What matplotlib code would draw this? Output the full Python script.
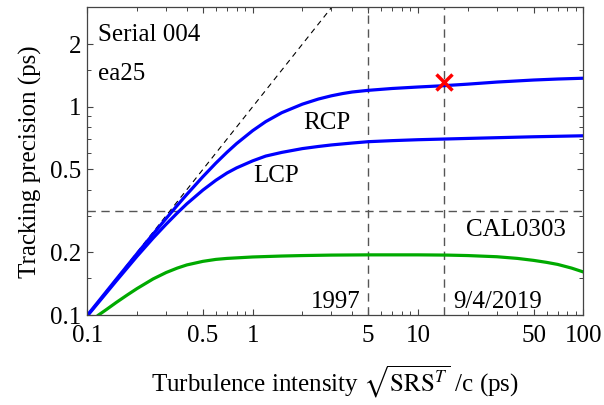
import numpy as np
import matplotlib
matplotlib.use("Agg")
import matplotlib.pyplot as plt
from matplotlib.ticker import FixedLocator, NullFormatter

SERIF = "Liberation Serif"
plt.rcParams["font.family"] = SERIF
plt.rcParams["mathtext.fontset"] = "stix"
plt.rcParams["font.size"] = 18

# --- data ---
rcp_x = [0.1, 0.15, 0.2, 0.25, 0.3, 0.35, 0.4, 0.5, 0.6, 0.7, 0.8, 1.0,
         1.2, 1.5, 2.0, 2.5, 3.0, 3.5, 4.0, 5.0, 7.0, 10, 14, 20, 30, 50,
         70, 100]
rcp_y = [0.0997, 0.1488, 0.1973, 0.2447, 0.291, 0.336, 0.3795, 0.4615,
         0.537, 0.605, 0.666, 0.768, 0.849, 0.937, 1.03, 1.09, 1.13, 1.158,
         1.178, 1.20, 1.225, 1.245, 1.262, 1.285, 1.315, 1.345, 1.36, 1.372]

lcp_x = [0.1, 0.15, 0.2, 0.25, 0.3, 0.35, 0.4, 0.5, 0.6, 0.7, 0.8, 1.0,
         1.2, 1.5, 2.0, 2.5, 3.0, 4.0, 5.0, 7.0, 10, 20, 50, 100]
lcp_y = [0.0989, 0.146, 0.1915, 0.234, 0.273, 0.309, 0.342, 0.398, 0.444,
         0.481, 0.509, 0.55, 0.58, 0.604, 0.63, 0.645, 0.656, 0.67, 0.68,
         0.688, 0.695, 0.705, 0.718, 0.726]

cal_x = [0.117, 0.13, 0.15, 0.175, 0.2, 0.25, 0.3, 0.35, 0.4, 0.5, 0.6,
         0.7, 1.0, 1.5, 2.0, 3.0, 5.0, 10, 15, 20, 30, 40, 50, 60, 70, 85,
         100]
cal_y = [0.1, 0.106, 0.115, 0.125, 0.134, 0.149, 0.16, 0.168, 0.174,
         0.181, 0.185, 0.187, 0.19, 0.192, 0.193, 0.194, 0.1945, 0.1945,
         0.194, 0.193, 0.1905, 0.187, 0.183, 0.179, 0.175, 0.168, 0.161]

ideal_x = [0.1, 3.0]
ideal_y = [0.1, 3.0]

epoch_x = [5.0, 14.3]
floor_y = 0.316
marker_x, marker_y = 14.3, 1.32

x_major = [0.1, 0.5, 1, 5, 10, 50, 100]
x_major_labels = ["0.1", "0.5", "1", "5", "10", "50", "100"]
x_minor = [0.2, 0.3, 0.4, 0.6, 0.7, 0.8, 0.9, 2, 3, 4, 6, 7, 8, 9,
           20, 30, 40, 60, 70, 80, 90]
y_major = [0.1, 0.2, 0.5, 1, 2]
y_major_labels = ["0.1", "0.2", "0.5", "1", "2"]
y_minor = [0.15, 0.3, 0.4, 0.6, 0.7, 0.8, 0.9, 1.5]

fig = plt.figure(figsize=(6.04, 4.05), dpi=100)
ax = fig.add_axes([0.1445, 0.2222, 0.8212, 0.7593])
ax.set_xscale("log")
ax.set_yscale("log")
ax.set_xlim(0.1, 100)
ax.set_ylim(0.1, 3.0)

# reference lines
ax.plot(ideal_x, ideal_y, color="black", lw=0.8, dashes=(5, 4))
for xv in epoch_x:
    ax.axvline(xv, color="#555555", lw=1.0, dashes=(6, 4))
ax.axhline(floor_y, color="#555555", lw=1.0, dashes=(6, 4))

# curves
ax.plot(cal_x, cal_y, color="#00aa00", lw=2.3)
ax.plot(lcp_x, lcp_y, color="#0000ff", lw=2.3)
ax.plot(rcp_x, rcp_y, color="#0000ff", lw=2.3)
ax.plot(marker_x, marker_y, "x", color="red", ms=11, mew=2.5)

# annotations
txt = dict(fontfamily=SERIF, fontsize=18)
ax.text(0.0216, 0.91, "Serial 004", transform=ax.transAxes, va="center", **txt)
ax.text(0.0216, 0.785, "ea25", transform=ax.transAxes, va="center", **txt)
ax.text(2.8, 0.835, "RCP", ha="center", va="center", **txt)
ax.text(1.39, 0.465, "LCP", ha="center", va="center", **txt)
ax.text(39.4, 0.255, "CAL0303", ha="center", va="center", **txt)
ax.text(4.5, 0.116, "1997", ha="right", va="center", **txt)
ax.text(16.4, 0.116, "9/4/2019", ha="left", va="center", **txt)

# ticks
ax.xaxis.set_major_locator(FixedLocator(x_major))
ax.set_xticklabels(x_major_labels, **txt)
ax.xaxis.set_minor_locator(FixedLocator(x_minor))
ax.xaxis.set_minor_formatter(NullFormatter())
ax.yaxis.set_major_locator(FixedLocator(y_major))
ax.set_yticklabels(y_major_labels, **txt)
ax.yaxis.set_minor_locator(FixedLocator(y_minor))
ax.yaxis.set_minor_formatter(NullFormatter())
ax.tick_params(which="both", direction="in", top=True, right=True,
               color="#444444")
ax.tick_params(which="major", length=4.5, width=0.8)
ax.tick_params(which="minor", length=2.8, width=0.7)
ax.tick_params(axis="x", which="major", pad=7)
ax.tick_params(axis="y", which="major", pad=4)
for s in ax.spines.values():
    s.set_color("#444444")
    s.set_linewidth(0.9)

ax.set_xlabel(r"Turbulence intensity $\sqrt{\mathrm{SRS}^{T}}$ /c (ps)",
              labelpad=12, **txt)
ax.set_ylabel("Tracking precision (ps)", labelpad=6, **txt)

fig.savefig("out.png", dpi=100)
